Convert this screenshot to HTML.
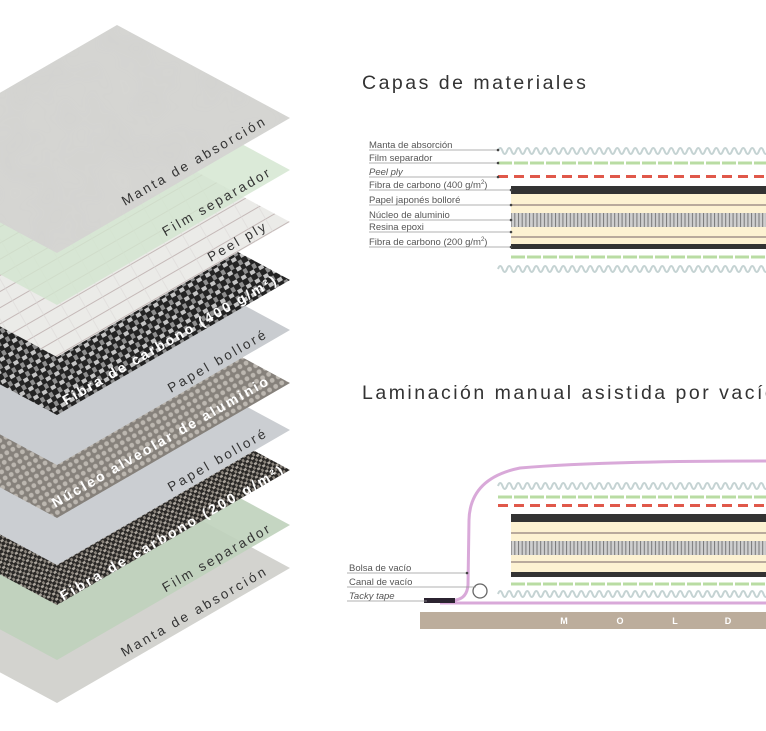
<!DOCTYPE html>
<html><head><meta charset="utf-8"><style>
html,body{margin:0;padding:0;background:#fff;}
svg{display:block;font-family:"Liberation Sans",sans-serif;}
</style></head><body>
<svg width="766" height="731" viewBox="0 0 766 731" xmlns="http://www.w3.org/2000/svg">
<defs>
<path id="wv" d="M0,0 q2.25,-6 4.5,0 t4.5,0 t4.5,0 t4.5,0 t4.5,0 t4.5,0 t4.5,0 t4.5,0 t4.5,0 t4.5,0 t4.5,0 t4.5,0 t4.5,0 t4.5,0 t4.5,0 t4.5,0 t4.5,0 t4.5,0 t4.5,0 t4.5,0 t4.5,0 t4.5,0 t4.5,0 t4.5,0 t4.5,0 t4.5,0 t4.5,0 t4.5,0 t4.5,0 t4.5,0 t4.5,0 t4.5,0 t4.5,0 t4.5,0 t4.5,0 t4.5,0 t4.5,0 t4.5,0 t4.5,0 t4.5,0 t4.5,0 t4.5,0 t4.5,0 t4.5,0 t4.5,0 t4.5,0 t4.5,0 t4.5,0 t4.5,0 t4.5,0 t4.5,0 t4.5,0 t4.5,0 t4.5,0 t4.5,0 t4.5,0 t4.5,0 t4.5,0 t4.5,0 t4.5,0" fill="none" stroke="#c5d3d3" stroke-width="2"/>
<pattern id="comb" patternUnits="userSpaceOnUse" width="3.7" height="10"><rect width="3.7" height="10" fill="#cfcfcf"/><rect x="0" width="1" height="10" fill="#777"/></pattern>
<pattern id="weave" patternUnits="userSpaceOnUse" width="10" height="10" patternTransform="rotate(-30)"><rect width="10" height="10" fill="#232323"/><rect x="0" y="0" width="5" height="4" fill="#c4c4c4"/><rect x="5" y="5" width="4" height="5" fill="#8e8e8e"/></pattern>
<pattern id="weave2" patternUnits="userSpaceOnUse" width="6" height="6" patternTransform="rotate(-30)"><rect width="6" height="6" fill="#2a2826"/><rect x="0" y="0" width="3" height="2.5" fill="#aaa49c"/><rect x="3" y="3" width="2.5" height="3" fill="#8a847c"/></pattern>
<pattern id="metal" patternUnits="userSpaceOnUse" width="7" height="7" patternTransform="rotate(-30)"><rect width="7" height="7" fill="#86817b"/><circle cx="3.5" cy="3.5" r="2.4" fill="#bcb7b0"/></pattern>
<pattern id="peel" patternUnits="userSpaceOnUse" width="20" height="14" patternTransform="rotate(-30)"><rect width="20" height="14" fill="#ebebe8"/><line x1="0" y1="0.5" x2="20" y2="0.5" stroke="#a08888" stroke-width="0.5"/><line x1="0.5" y1="0" x2="0.5" y2="14" stroke="#dcdad8" stroke-width="0.6"/></pattern>
<filter id="noise"><feTurbulence type="fractalNoise" baseFrequency="0.03" numOctaves="2" seed="3"/><feColorMatrix values="0 0 0 0 0.5 0 0 0 0 0.5 0 0 0 0 0.5 0 0 0 0.12 0"/><feComposite in2="SourceGraphic" operator="in"/></filter>
</defs>

<g>
<polygon points="117,475 290,568 57,703 -116,610" fill="#d3d3cf"/>
<polygon points="117,432 290,525 57,660 -116,567" fill="#bfd2bb" fill-opacity="0.9"/>
<polygon points="117,377 290,470 57,605 -116,512" fill="url(#weave2)"/>
<polygon points="117,337 290,430 57,565 -116,472" fill="#cbced2"/>
<polygon points="117,290 290,383 57,518 -116,425" fill="url(#metal)"/>
<polygon points="117,237 290,330 57,465 -116,372" fill="#c9ccd0"/>
<polygon points="117,187 290,280 57,415 -116,322" fill="url(#weave)"/>
<polygon points="117,129 290,222 57,357 -116,264" fill="url(#peel)"/>
<polygon points="117,77 290,170 57,305 -116,212" fill="#d2e5ce" fill-opacity="0.8"/>
<polygon points="117,25 290,118 57,253 -116,160" fill="#d6d6d3"/>
<polygon points="117,25 290,118 57,253 -116,160" fill="#fff" filter="url(#noise)"/>
</g>
<g font-size="13.5" fill="#333" letter-spacing="1.5">
<text x="267" y="124" text-anchor="end" transform="rotate(-30 267 124)" textLength="164" lengthAdjust="spacing">Manta de absorción</text>
<text x="272" y="175" text-anchor="end" transform="rotate(-30 272 175)" textLength="123" lengthAdjust="spacing">Film separador</text>
<text x="268" y="229" text-anchor="end" transform="rotate(-30 268 229)" textLength="66" lengthAdjust="spacing">Peel ply</text>
<text x="268" y="337" text-anchor="end" transform="rotate(-30 268 337)" textLength="112" lengthAdjust="spacing">Papel bolloré</text>
<text x="268" y="436" text-anchor="end" transform="rotate(-30 268 436)" textLength="112" lengthAdjust="spacing">Papel bolloré</text>
<text x="272" y="531" text-anchor="end" transform="rotate(-30 272 531)" textLength="123" lengthAdjust="spacing">Film separador</text>
<text x="268" y="574" text-anchor="end" transform="rotate(-30 268 574)" textLength="166" lengthAdjust="spacing">Manta de absorción</text>
</g>
<g font-size="14" font-weight="bold" fill="#fff" letter-spacing="1">
<text x="278" y="283" text-anchor="end" transform="rotate(-30 278 283)" textLength="245" lengthAdjust="spacing">Fibra de carbono (400 g/m²)</text>
<text x="270" y="384" text-anchor="end" transform="rotate(-30 270 384)" textLength="248" lengthAdjust="spacing">Núcleo alveolar de aluminio</text>
<text x="285" y="473" text-anchor="end" transform="rotate(-30 285 473)" textLength="256" lengthAdjust="spacing">Fibra de carbono (200 g/m²)</text>
</g>

<text x="362" y="89" font-size="19.5" fill="#333" letter-spacing="2.5">Capas de materiales</text>
<text x="362" y="399" font-size="19.5" fill="#333" letter-spacing="2.5">Laminación manual asistida por vacío</text>

<g font-size="9.5" fill="#555">
<text x="369" y="148">Manta de absorción</text>
<text x="369" y="161">Film separador</text>
<text x="369" y="175" font-style="italic">Peel ply</text>
<text x="369" y="188">Fibra de carbono (400 g/m<tspan font-size="6" dy="-4">2</tspan><tspan dy="4">)</tspan></text>
<text x="369" y="203">Papel japonés bolloré</text>
<text x="369" y="218">Núcleo de aluminio</text>
<text x="369" y="230">Resina epoxi</text>
<text x="369" y="245">Fibra de carbono (200 g/m<tspan font-size="6" dy="-4">2</tspan><tspan dy="4">)</tspan></text>
</g>
<g stroke="#999" stroke-width="0.8">
<line x1="369" y1="150" x2="498" y2="150"/><line x1="369" y1="163" x2="498" y2="163"/><line x1="369" y1="177" x2="498" y2="177"/>
<line x1="369" y1="190" x2="511" y2="190"/><line x1="369" y1="205" x2="511" y2="205"/><line x1="369" y1="220" x2="511" y2="220"/>
<line x1="369" y1="232" x2="511" y2="232"/><line x1="369" y1="247" x2="511" y2="247"/>
</g>
<g>
<use href="#wv" x="498" y="151"/>
<line x1="498" y1="163" x2="766" y2="163" stroke="#b9dca3" stroke-width="3" stroke-dasharray="14 2"/>
<line x1="498" y1="176.5" x2="766" y2="176.5" stroke="#e0584a" stroke-width="3" stroke-dasharray="10 6"/>
<rect x="511" y="194" width="255" height="52" fill="#fdf2d2"/>
<rect x="511" y="186" width="255" height="8" fill="#333"/>
<rect x="511" y="204" width="255" height="2" fill="#b9aa9c"/>
<rect x="511" y="213" width="255" height="14" fill="url(#comb)"/>
<rect x="511" y="236" width="255" height="2" fill="#b9aa9c"/>
<rect x="511" y="244" width="255" height="5" fill="#333"/>
<line x1="511" y1="257" x2="766" y2="257" stroke="#b9dca3" stroke-width="3" stroke-dasharray="14 2"/>
<use href="#wv" x="498" y="269"/>
</g>
<g fill="#444">
<circle cx="498" cy="150" r="1.3"/><circle cx="498" cy="163" r="1.3"/><circle cx="498" cy="177" r="1.3"/>
<circle cx="511" cy="190" r="1.3"/><circle cx="511" cy="205" r="1.3"/><circle cx="511" cy="220" r="1.3"/><circle cx="511" cy="232" r="1.3"/><circle cx="511" cy="247" r="1.3"/>
</g>

<g>
<use href="#wv" x="498" y="486"/>
<line x1="498" y1="497" x2="766" y2="497" stroke="#b9dca3" stroke-width="3" stroke-dasharray="14 2"/>
<line x1="498" y1="505.5" x2="766" y2="505.5" stroke="#e0584a" stroke-width="3" stroke-dasharray="10 6"/>
<rect x="511" y="522" width="255" height="53" fill="#fdf2d2"/>
<rect x="511" y="514" width="255" height="8" fill="#333"/>
<rect x="511" y="532" width="255" height="2" fill="#b9aa9c"/>
<rect x="511" y="541" width="255" height="14" fill="url(#comb)"/>
<rect x="511" y="561" width="255" height="2" fill="#b9aa9c"/>
<rect x="511" y="572" width="255" height="5" fill="#333"/>
<line x1="511" y1="584" x2="766" y2="584" stroke="#b9dca3" stroke-width="3" stroke-dasharray="14 2"/>
<use href="#wv" x="498" y="594"/>
<path d="M440,601 L456,600 Q467,598 468,585 L469,520 Q470,478 520,468 Q600,461 766,461" fill="none" stroke="#d9a9d9" stroke-width="3"/>
<line x1="440" y1="603" x2="766" y2="603" stroke="#d9a9d9" stroke-width="3"/>
<rect x="424" y="598" width="31" height="5" fill="#2b2330"/>
<circle cx="480" cy="591" r="7" fill="none" stroke="#666" stroke-width="1.3"/>
<rect x="420" y="612" width="346" height="17" fill="#bcad9c"/>
<g font-size="9" font-weight="bold" fill="#fff" text-anchor="middle"><text x="564" y="624">M</text><text x="620" y="624">O</text><text x="675" y="624">L</text><text x="728" y="624">D</text></g>
</g>
<g font-size="9.5" fill="#555">
<text x="349" y="571">Bolsa de vacío</text>
<text x="349" y="585">Canal de vacío</text>
<text x="349" y="599" font-style="italic">Tacky tape</text>
</g>
<g stroke="#999" stroke-width="0.8">
<line x1="347" y1="573" x2="467" y2="573"/>
<line x1="347" y1="587" x2="476" y2="587"/>
<line x1="347" y1="601" x2="427" y2="601"/>
</g>
<circle cx="467" cy="573" r="1.3" fill="#444"/>
</svg>
</body></html>
